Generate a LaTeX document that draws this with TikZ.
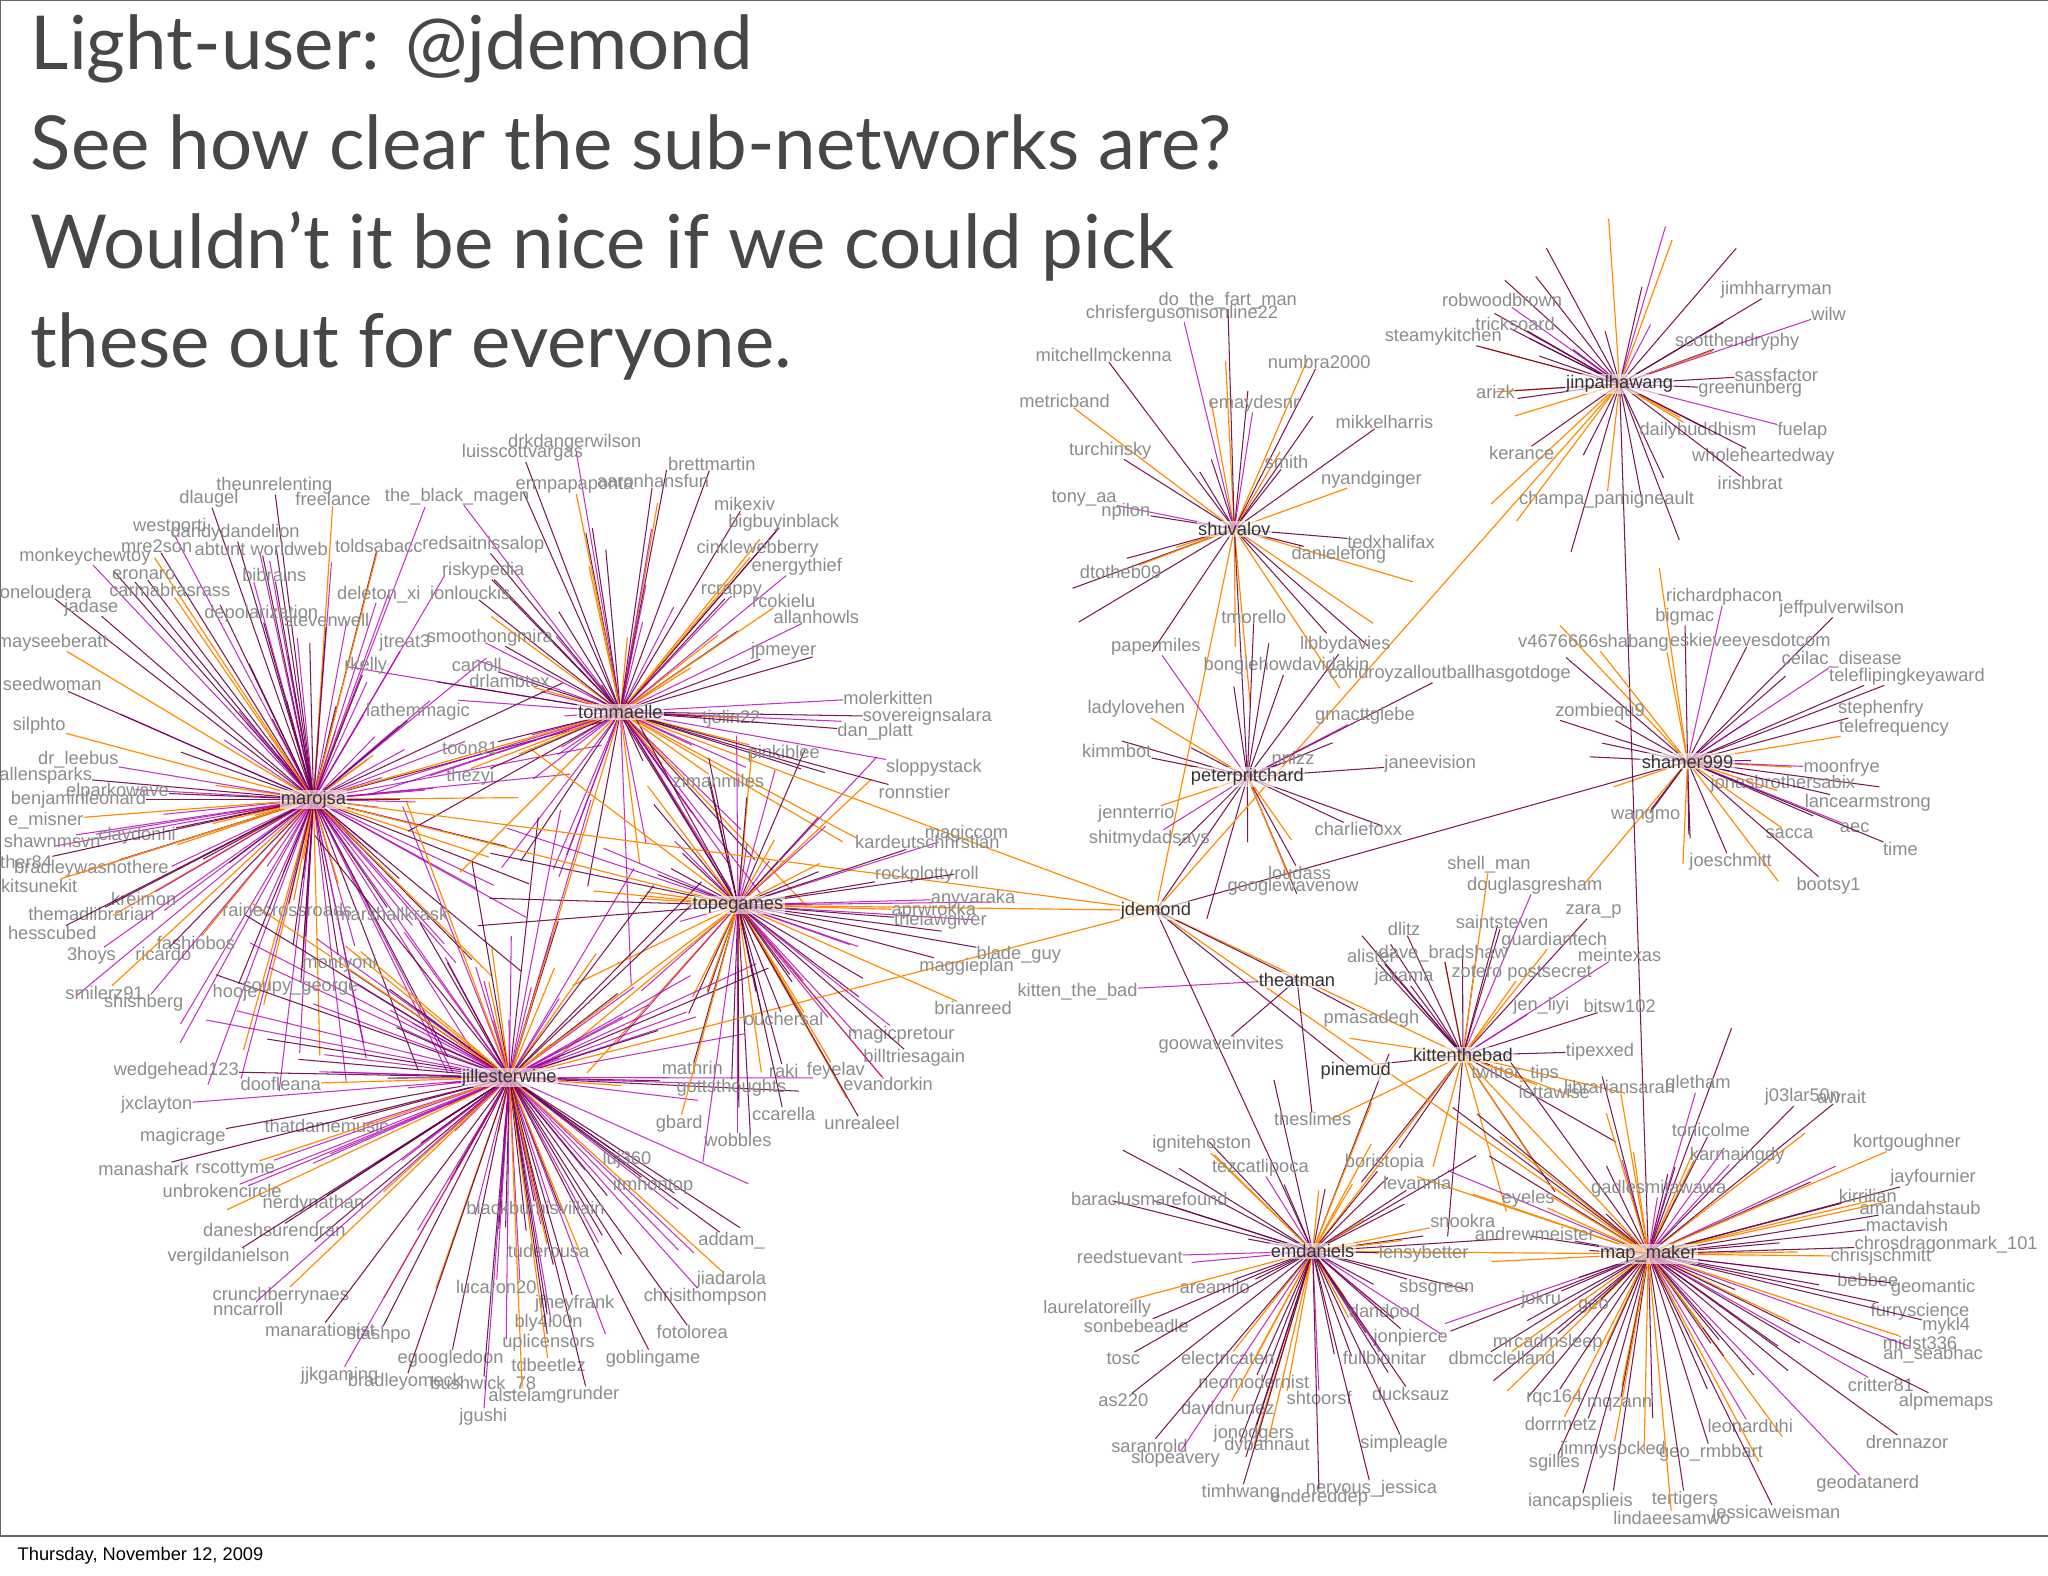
\documentclass[tikz,border=0pt]{standalone}
\usepackage{fontspec}
\setmainfont{Lato}
\newfontfamily\lab{Liberation Sans}
\begin{document}
\begin{tikzpicture}[x=1pt,y=-1pt,
 hub/.style={font=\lab\fontsize{14}{14}\selectfont,text=black!80,inner sep=1pt,fill=white,fill opacity=0.6,text opacity=1},
 leaf/.style={font=\lab\fontsize{14}{14}\selectfont,text=black!45,inner sep=0pt},
 ce/.style={draw=red!60!blue!70!black,line width=0.8pt,draw opacity=0.9},
 oe/.style={draw=orange!90!yellow,line width=0.9pt},
 pe/.style={draw=violet!60!magenta,line width=0.8pt,draw opacity=0.8}]
\useasboundingbox (0,0) rectangle (1568,1206);
\fill[white] (0,0) rectangle (1568,1206);
\draw[black!60,line width=0.8pt] (0,0) rectangle (1568,1176);
\node[anchor=west,font=\lab\fontsize{14}{14}\selectfont] (date) at (10,1191) {Thursday, November 12, 2009};
% hubs
\foreach \n/\x/\y/\t in {maro/240/612/marojsa, tomm/475/545/tommaelle, tope/565/693/topegames,
 jill/390/825/jillesterwine, shuv/945/405/shuvalov, jinp/1240/294/jinpalhawang,
 pete/955/595/peterpritchard, jdem/885/697/jdemond, sham/1292/583/shamer999,
 kitb/1120/808/kittenthebad, emda/1005/958/emdaniels, mapm/1262/960/map\_maker,
 pine/1038/820/pinemud, thea/993/750/theatman}
 \coordinate (\n) at (\x,\y);
% random spokes
\pgfmathsetseed{7}
\foreach \n/\N/\R/\P in {maro/110/200/0.6, tomm/70/180/0.45, tope/70/160/0.4, jill/120/200/0.55, shuv/20/110/0.05, jinp/30/100/0.05, sham/22/110/0.05, kitb/20/100/0.1, emda/40/130/0.1, mapm/60/150/0.1, pete/12/80/0.0}{
 \foreach \k in {1,...,\N}{
  \pgfmathsetmacro\a{rnd*360}\pgfmathsetmacro\r{40+rnd*\R}\pgfmathsetmacro\c{rnd}
  \pgfmathsetmacro\q{\P+(1-\P)*0.6}
  \ifdim\c pt<\P pt \draw[pe] (\n) -- ++(\a:\r);
  \else\ifdim\c pt<\q pt \draw[ce] (\n) -- ++(\a:\r);
  \else \draw[oe] (\n) -- ++(\a:\r);\fi\fi
 }}
% hub-hub edges
\foreach \a/\b/\s in {jdem/shuv/oe, jdem/jinp/oe, jdem/sham/ce, jdem/maro/oe, jdem/tomm/oe, jdem/tope/oe,
 jdem/kitb/oe, jdem/emda/ce, jdem/mapm/oe, jinp/mapm/ce, emda/mapm/oe, kitb/mapm/oe, maro/jill/pe,
 maro/tope/oe, tomm/jill/oe, tomm/tope/ce, jill/tope/oe, maro/tomm/oe, jdem/pete/ce, jdem/thea/ce,
 jdem/pine/ce, shuv/pete/ce, kitb/emda/oe, jdem/jill/oe}
 \draw[\s] (\a) -- (\b);
% labelled leaves
\foreach \h/\x/\y/\t [count=\i] in {
shuv/905/240/chrisfergusonisonline22, shuv/940/230/do\_the\_fart\_man, shuv/845/272/mitchellmckenna, shuv/1010/277/numbra2000,
shuv/815/307/metricband, shuv/960/309/emaydesnr, shuv/1060/323/mikkelharris, shuv/850/345/turchinsky, shuv/985/354/smith,
shuv/1050/367/nyandginger, shuv/830/382/tony\_aa, shuv/862/392/npilon, shuv/1065/415/tedxhalifax, shuv/1025/425/danielefong, shuv/858/438/dtotheb09,
jinp/1150/230/robwoodbrown, jinp/1360/222/jimhharryman, jinp/1105/258/steamykitchen, jinp/1160/248/tricksoard, jinp/1330/262/scotthendryphy,
jinp/1400/240/wilw, jinp/1145/300/arizk, jinp/1340/298/greenunberg, jinp/1360/287/sassfactor, jinp/1300/330/dailybuddhism, jinp/1380/330/fuelap,
jinp/1350/350/wholeheartedway, jinp/1165/347/kerance, jinp/1340/370/irishbrat, jinp/1230/383/champa\_pamigneault,
pete/885/495/papermiles, pete/1030/494/libbydavies, pete/985/510/bongiehowdavidakin, pete/1110/516/condroyzalloutballhasgotdoge, pete/870/543/ladylovehen,
pete/1045/548/gmacttglebe, pete/855/575/kimmbot, pete/1095/585/janeevision, pete/990/580/nnizz, pete/870/623/jennterrio, pete/880/642/shitmydadsays,
pete/1040/635/charliefoxx, pete/995/668/loudass, pete/960/472/tmorello, pete/990/679/googlewavenow,
sham/1320/457/richardphacon, sham/1410/466/jeffpulverwilson, sham/1290/472/bigmac, sham/1340/490/eskieveevesdotcom, sham/1220/492/v4676666shabang,
sham/1410/505/ceilac\_disease, sham/1460/518/teleflipingkeyaward, sham/1225/545/zombiequ9, sham/1440/543/stephenfry, sham/1450/557/telefrequency,
sham/1410/588/moonfrye, sham/1365/600/jonasbrothersabix, sham/1430/615/lancearmstrong, sham/1260/625/wangmo, sham/1370/638/sacca, sham/1420/634/aec,
sham/1455/650/time, sham/1325/660/joeschmitt, sham/1400/678/bootsy1,
kitb/1140/662/shell\_man, kitb/1175/678/douglasgresham, kitb/1220/698/zara\_p, kitb/1075/711/dlitz, kitb/1150/706/saintsteven, kitb/1190/720/guardiantech,
kitb/1240/731/meintexas, kitb/1050/732/alister, kitb/1105/730/dave\_bradshaw, kitb/1075/748/jaxama, kitb/1165/745/zotero postsecret,
kitb/1180/770/jen\_liyi, kitb/1240/770/bitsw102, kitb/1225/805/tipexxed, kitb/1160/822/twitter\_tips, kitb/1190/836/lottawise,
thea/825/759/kitten\_the\_bad, thea/935/800/goowaveinvites, thea/1050/780/pmasadegh, thea/1005/857/theslimes,
emda/920/876/ignitehoston, emda/965/894/tezcatlipoca, emda/1060/890/boristopia, emda/1085/906/levannia, emda/880/918/baraclusmarefound,
emda/1120/935/snookra, emda/865/962/reedstuevant, emda/1090/960/lensybetter, emda/930/985/areamilo, emda/1100/986/sbsgreen, emda/840/1002/laurelatoreilly,
emda/1060/1004/dandood, emda/1080/1024/jonpierce, emda/870/1015/sonbebeadle, emda/860/1040/tosc, emda/940/1040/electricaten,
emda/1060/1040/fullbionitar, emda/960/1058/neomodernist, emda/1080/1067/ducksauz, emda/860/1072/as220, emda/940/1078/davidnunez, emda/1010/1070/shtoorsf,
emda/960/1098/jonodgers, emda/1075/1105/simpleagle, emda/880/1107/saranrold, emda/970/1107/dybannaut, emda/900/1117/slopeavery,
emda/1050/1140/nervous\_jessica, emda/950/1143/timhwang, emda/1010/1147/endereddep,
mapm/1240/832/librariansarah, mapm/1300/830/gletham, mapm/1380/840/j03lar50n, mapm/1410/840/awrait, mapm/1310/865/tonicolme,
mapm/1460/875/kortgoughner, mapm/1330/885/karmaingdy, mapm/1480/902/jayfournier, mapm/1430/916/kirrilian, mapm/1470/925/amandahstaub,
mapm/1170/918/eyeles, mapm/1270/910/gadlesmitawawa, mapm/1460/938/mactavish, mapm/1490/953/chrosdragonmark\_101, mapm/1175/945/andrewmeister,
mapm/1440/962/chrisjschmitt, mapm/1430/980/bebbee, mapm/1480/986/geomantic, mapm/1470/1004/furryscience, mapm/1490/1015/mykl4,
mapm/1470/1028/midst336, mapm/1480/1037/an\_seabhac, mapm/1180/995/jokru, mapm/1220/1000/geo, mapm/1185/1028/mrcadmsleep, mapm/1150/1040/dbmcclelland,
mapm/1440/1060/critter81, mapm/1490/1073/alpmemaps, mapm/1190/1070/rqc164, mapm/1240/1075/mqzann, mapm/1195/1090/dorrmetz, mapm/1340/1092/leonarduhi,
mapm/1460/1104/drennazor, mapm/1190/1120/sgilles, mapm/1310/1112/geo\_rmbbart, mapm/1235/1110/jimmysocked, mapm/1430/1136/geodatanerd,
mapm/1210/1150/iancapsplieis, mapm/1290/1148/tertigers, mapm/1360/1159/jessicaweisman, mapm/1280/1162/lindaeesamwo,
tomm/440/339/drkdangerwilson, tomm/400/347/luisscottvargas, tomm/545/355/brettmartin, tomm/500/368/aaronhansfun, tomm/440/372/ermpapaponta,
tomm/350/380/the\_black\_magen, tomm/570/386/mikexiv, tomm/600/400/bigbuyinblack, tomm/370/417/redsaitnissalop, tomm/580/420/cinklewebberry,
tomm/610/434/energythief, tomm/370/437/riskypedia, tomm/360/454/ionlouckis, tomm/560/453/rcrappy, tomm/600/460/rcokielu, tomm/625/472/allanhowls,
tomm/375/488/smoothongmira, tomm/600/498/jpmeyer, tomm/365/509/carroll, tomm/390/521/drlambtex, tomm/680/534/molerkitten,
tomm/710/549/sovereignsalara, tomm/560/550/tjolin22, tomm/670/560/dan\_platt, tomm/600/577/pinkiblee, tomm/715/588/sloppystack,
tomm/700/606/ronnstier, tomm/360/573/toon81, tomm/360/595/thezyi, tomm/550/598/zimanmiles,
tope/740/638/magiccom, tope/710/645/kardeutschhrstian, tope/700/670/rockplotty, tope/740/668/roll, tope/715/697/aprwrokka, tope/745/688/anyvaraka,
tope/720/705/thelawgiver, tope/780/731/blade\_guy, tope/740/740/maggieplan, tope/745/772/brianreed, tope/690/792/magicpretour,
tope/700/810/billtriesagain, tope/530/818/mathrin, tope/600/820/raki, tope/640/820/feyelav, tope/680/830/evandorkin, tope/560/833/gottsthoughts,
tope/600/853/ccarella, tope/660/860/unrealeel, tope/520/860/gbard, tope/565/873/wobbles, tope/600/780/ouchersal,
maro/210/372/theunrelenting, maro/160/382/dlaugel, maro/255/382/freelance, maro/130/403/westporti, maro/180/408/dandydandelion,
maro/120/418/mre2son, maro/200/420/abtunt worldweb, maro/290/418/toldsabacc, maro/65/426/monkeychewtoy, maro/110/440/eronaro, maro/210/440/bibrains,
maro/35/453/oneloudera, maro/130/452/carmabrasrass, maro/290/455/deleton\_xi, maro/70/465/jadase, maro/200/470/depolarization, maro/250/475/stevenwell,
maro/40/492/mayseeberatt, maro/310/492/jtreat3, maro/280/510/rkelly, maro/40/524/seedwoman, maro/320/545/lathemmagic, maro/30/556/silphto,
maro/60/582/dr\_leebus, maro/35/594/allensparks, maro/90/606/elparkowave, maro/60/612/benjaminleonard, maro/35/628/e\_misner, maro/40/644/shawnmsvn,
maro/105/640/claydonhi, maro/20/660/ther84, maro/70/665/bradleywasnothere, maro/30/678/kitsunekit, maro/110/688/kreimon, maro/70/700/themadlibrarian,
maro/220/697/rainecrossroads, maro/40/714/hesscubed, maro/150/722/fashiobos, maro/70/732/3hoys, maro/125/730/ricardo, maro/300/700/marshallkrask,
maro/260/738/montyoni, maro/80/760/smilerz91, maro/110/768/shishberg, maro/180/760/hooje, maro/230/757/soupy\_george,
jill/135/820/wedgehead123, jill/215/830/doofleana, jill/120/846/jxclayton, jill/250/862/thatdamemusic, jill/140/870/magicrage,
jill/110/895/manashark, jill/180/895/rscottyme, jill/170/912/unbrokencircle, jill/240/922/nerdynathan, jill/210/942/daneshsurendran,
jill/175/962/vergildanielson, jill/215/992/crunchberrynaes, jill/190/1002/nncarroll, jill/245/1018/manarationist, jill/290/1022/stashpo,
jill/560/950/addam\_, jill/560/980/jiadarola, jill/540/993/chrisithompson, jill/530/1020/fotolorea, jill/500/1040/goblingame, jill/345/1040/egoogledoon,
jill/420/1045/tdbeetlez, jill/260/1053/jjkgaming, jill/310/1058/bradleyomeck, jill/370/1060/bushwick\_78, jill/450/1068/grunder, jill/400/1068/alstelam,
jill/370/1085/jgushi, jill/480/888/luj360, jill/500/908/itmhontop, jill/410/925/blackburhisvillain, jill/420/958/tuderousa, jill/380/985/lucaron20,
jill/440/998/jfheyfrank, jill/420/1013/bly4i00n, jill/420/1028/uplicensors}{
 \node[leaf] (l\i) at (\x,\y) {\t};
 \pgfmathsetmacro\c{mod(\i,5)}
 \ifdim\c pt<1pt \draw[oe] (\h) -- (l\i); \else\ifdim\c pt<2pt \draw[pe] (\h) -- (l\i); \else \draw[ce] (\h) -- (l\i);\fi\fi
}
% hub labels
\foreach \n/\t in {maro/marojsa, tomm/tommaelle, tope/topegames, jill/jillesterwine, shuv/shuvalov, jinp/jinpalhawang,
 pete/peterpritchard, jdem/jdemond, sham/shamer999, kitb/kittenthebad, emda/emdaniels, mapm/map\_maker, pine/pinemud, thea/theatman}
 \node[hub] (h\n) at (\n) {\t};
% title
\node[anchor=north west,align=left,text=black!72,font=\fontsize{57}{76}\selectfont] (title) at (20,8)
 {Light-user: @jdemond\\See how clear the sub-networks are?\\Wouldn’t it be nice if we could pick\\these out for everyone.};
\end{tikzpicture}
\end{document}
